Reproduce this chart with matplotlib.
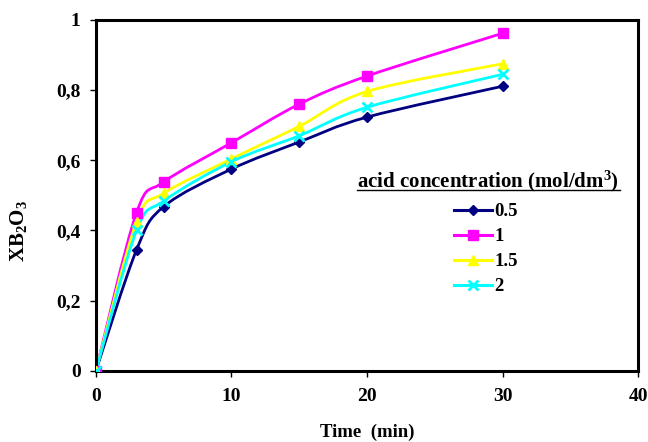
import numpy as np
import matplotlib
matplotlib.use("Agg")
import matplotlib.pyplot as plt
from matplotlib.path import Path
from matplotlib.patches import PathPatch
from matplotlib.lines import Line2D

plt.rcParams['font.family'] = ['Liberation Serif', 'DejaVu Serif']
plt.rcParams['font.weight'] = 'bold'
plt.rcParams['mathtext.fontset'] = 'custom'
plt.rcParams['mathtext.rm'] = 'Liberation Serif:bold'
plt.rcParams['mathtext.it'] = 'Liberation Serif:bold'
plt.rcParams['mathtext.bf'] = 'Liberation Serif:bold'

# data
time = [0, 3, 5, 10, 15, 20, 30]
labels = ['0.5', '1', '1.5', '2']
x_05 = [0, 0.345, 0.468, 0.575, 0.652, 0.723, 0.811]
x_1 = [0, 0.451, 0.538, 0.650, 0.760, 0.840, 0.962]
x_15 = [0, 0.425, 0.506, 0.604, 0.697, 0.796, 0.875]
x_2 = [0, 0.400, 0.484, 0.596, 0.670, 0.751, 0.845]
series = [x_05, x_1, x_15, x_2]
colors = ['#000080', '#FF00FF', '#FFFF00', '#00FFFF']
markers = ['D', 's', '^', 'x']
msizes = [5, 7, 7, 7]


def smooth_path(xs, ys):
    # Excel-like smoothed line: cubic Bezier with 1/6 tension
    pts = np.column_stack([xs, ys]).astype(float)
    n = len(pts)
    verts = [pts[0]]
    codes = [Path.MOVETO]
    for i in range(n - 1):
        p0 = pts[max(i - 1, 0)]
        p1 = pts[i]
        p2 = pts[i + 1]
        p3 = pts[min(i + 2, n - 1)]
        c1 = p1 + (p2 - p0) / 6.0
        c2 = p2 - (p3 - p1) / 6.0
        verts += [c1, c2, p2]
        codes += [Path.CURVE4] * 3
    return Path(verts, codes)


fig = plt.figure(figsize=(6.48, 4.42), dpi=100)
ax = fig.add_axes([0.148, 0.161, 0.837, 0.794])

handles = []
for ys, c, m, ms, lab in zip(series, colors, markers, msizes, labels):
    patch = PathPatch(smooth_path(time, ys), facecolor='none', edgecolor=c, lw=2.0, zorder=2)
    ax.add_patch(patch)
    mew = 2 if m == 'x' else 1
    ax.plot(time, ys, linestyle='none', marker=m, color=c, ms=ms, mew=mew, zorder=3)
    handles.append(Line2D([], [], color=c, lw=2.2, marker=m, ms=ms, mew=mew, label=lab))

ax.set_xlim(0, 40)
ax.set_ylim(0, 1)
ax.set_xticks([0, 10, 20, 30, 40])
ax.set_yticks([0, 0.2, 0.4, 0.6, 0.8, 1.0])
ax.set_yticklabels(['0', '0,2', '0,4', '0,6', '0,8', '1'])
ax.tick_params(direction='out', length=4, width=1, labelsize=14)
ax.tick_params(axis='y', pad=7)
ax.tick_params(axis='x', pad=8)
for s in ax.spines.values():
    s.set_linewidth(2.2)

ax.set_xlabel('Time  (min)', fontsize=13.5, fontweight='bold')
ax.xaxis.set_label_coords(0.5, -0.15)
ax.set_ylabel('XB$_2$O$_3$', fontsize=15, fontweight='bold')
ax.yaxis.set_label_coords(-0.123, 0.40)

# legend title, underlined
fig.text(357 / 648, 1 - 181 / 442, 'acid concentration (mol/dm$^3$)', fontsize=15, fontweight='bold',
         ha='left', va='center')
fig.add_artist(Line2D([357 / 648, 620 / 648], [1 - 190 / 442, 1 - 190 / 442], color='black', lw=1.0,
                      transform=fig.transFigure))

ax.legend(handles=handles, loc='upper left', bbox_to_anchor=(441 / 648, 1 - 190 / 442),
          bbox_transform=fig.transFigure, frameon=False, fontsize=13.5,
          handlelength=2.0, handletextpad=0.15, labelspacing=0.42, borderpad=0.2)

fig.savefig('out.png', dpi=100)
